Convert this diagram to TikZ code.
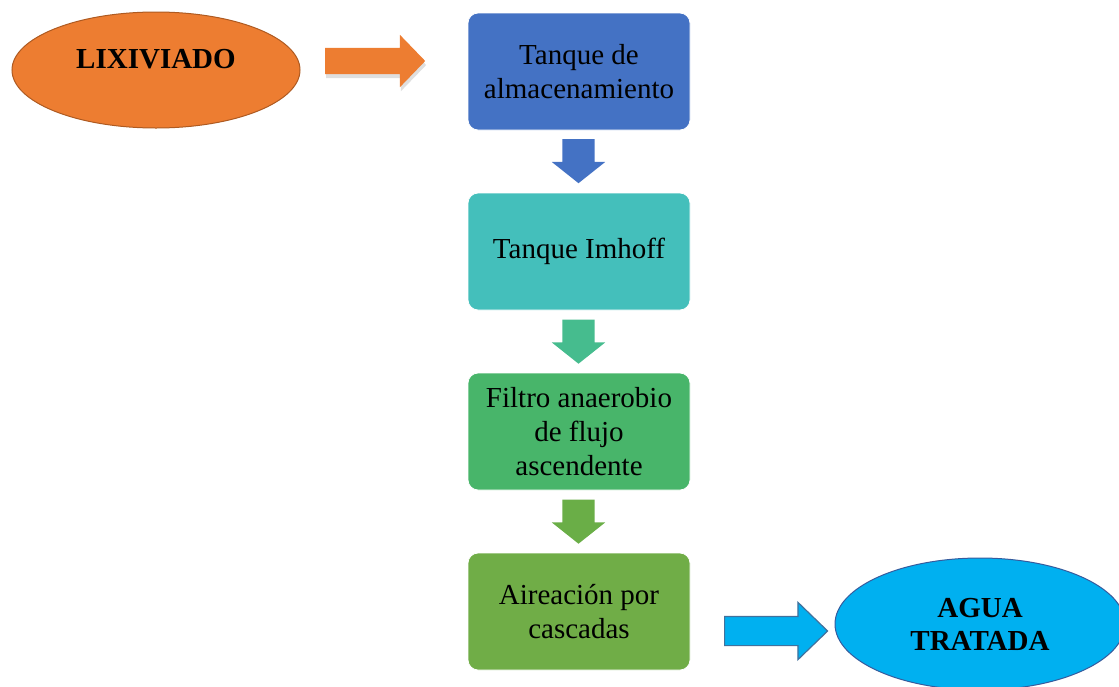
\documentclass[tikz,border=0pt]{standalone}
\usepackage{fontspec}
\setmainfont{Liberation Serif}
\usetikzlibrary{shapes.geometric,shapes.arrows,shadows}
\definecolor{cOrange}{HTML}{ED7D31}
\definecolor{cOrangeB}{HTML}{AE5A21}
\definecolor{cBlue}{HTML}{4472C4}
\definecolor{cTeal}{HTML}{44BFBB}
\definecolor{cTealArr}{HTML}{46BC8E}
\definecolor{cGreenA}{HTML}{48B56A}
\definecolor{cGreenArr}{HTML}{6AAE47}
\definecolor{cGreen}{HTML}{70AD47}
\definecolor{cSky}{HTML}{00B0F0}
\definecolor{cSkyB}{HTML}{41719C}
\begin{document}
\begin{tikzpicture}[x=1pt,y=-1pt,
  stepbox/.style={rectangle, rounded corners=10pt, minimum width=222pt, minimum height=117pt,
    align=center, font=\fontsize{29}{34}\selectfont, text=black, draw=white, line width=0.8pt},
  oval/.style={ellipse, minimum width=288pt, minimum height=116pt, align=center,
    font=\fontsize{29}{33}\selectfont\bfseries, line width=1pt},
  downarrow/.style={single arrow, shape border rotate=270, anchor=tail, inner ysep=0pt, inner xsep=16pt,
    minimum height=44pt, single arrow head extend=10.5pt, single arrow tip angle=103, draw=none}
]
\useasboundingbox (0,0) rectangle (1119,686);
\begin{scope}
\clip (0,0) rectangle (1119,686);
% ellipses
\node[oval, fill=cOrange, draw=cOrangeB, text depth=23pt] (lix) at (156,70) {LIXIVIADO};
\node[oval, fill=cSky, draw=cBlue!80!black, minimum width=290pt, minimum height=132pt] (agua) at (980,624) {AGUA\\TRATADA};
\end{scope}
% boxes
\node[stepbox, fill=cBlue] (b1) at (579,71.5) {Tanque de\\almacenamiento};
\node[stepbox, fill=cTeal] (b2) at (579,251.5) {Tanque Imhoff};
\node[stepbox, fill=cGreenA] (b3) at (579,431.5) {Filtro anaerobio\\de flujo\\ascendente};
\node[stepbox, fill=cGreen] (b4) at (579,611.5) {Aireación por\\cascadas};
% block arrows
\node[single arrow, anchor=tail, fill=cOrange, inner xsep=0pt, inner ysep=13pt, minimum height=100pt,
  single arrow head extend=13pt, single arrow tip angle=92,
  drop shadow={shadow xshift=1pt, shadow yshift=-4pt, opacity=0.25}] (a0) at (325,61) {};
\node[downarrow, fill=cBlue] (a1) at (578.5,139) {};
\node[downarrow, fill=cTealArr] (a2) at (578.5,319.5) {};
\node[downarrow, fill=cGreenArr] (a3) at (578.5,499.5) {};
\node[single arrow, anchor=tail, fill=cSky, draw=cSkyB, line width=1.2pt, inner xsep=0pt, inner ysep=14pt,
  minimum height=103pt, single arrow head extend=14pt, single arrow tip angle=88] (a4) at (724,631) {};
\end{tikzpicture}
\end{document}
